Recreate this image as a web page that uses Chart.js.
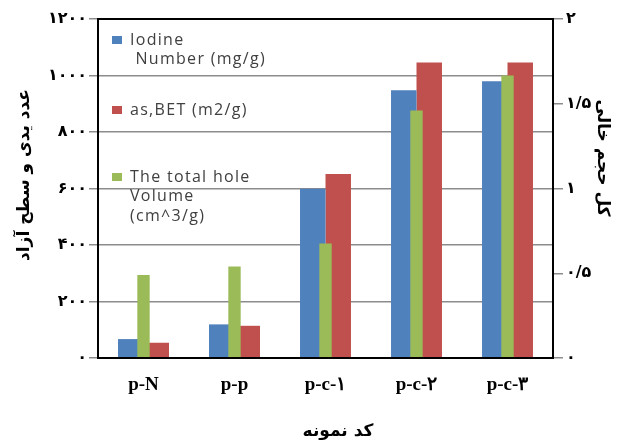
<!DOCTYPE html>
<html>
<head>
<meta charset="utf-8">
<script src="https://cdn.jsdelivr.net/npm/chart.js@4.4.1/dist/chart.umd.min.js"></script>
<style>
  html, body { margin: 0; padding: 0; background: #fff; }
  #wrap { width: 623px; height: 443px; position: relative; }
</style>
</head>
<body>
<div id="wrap"><canvas id="c" width="623" height="443"></canvas></div>
<script>
// ---- data ----
const categories = ['p-N', 'p-p', 'p-c-۱', 'p-c-۲', 'p-c-۳'];
const iodineNumber = [67, 119, 599, 948, 980];        // mg/g (left axis)
const betArea = [54, 114, 651, 1046, 1046];            // m2/g (left axis)
const holeVolume = [0.49, 0.54, 0.675, 1.46, 1.667];   // cm^3/g (right axis)

const leftTickLabels = ['۰', '۲۰۰', '۴۰۰', '۶۰۰', '۸۰۰', '۱۰۰۰', '۱۲۰۰'];
const rightTickLabels = ['۰', '۰/۵', '۱', '۱/۵', '۲'];

const seriesNames = [
  ['Iodine', ' Number (mg/g)'],
  ['as,BET (m2/g)'],
  ['The total hole', 'Volume', '(cm^3/g)']
];
const seriesColors = ['#4F81BD', '#C0504D', '#9BBB59'];

const leftTitle = 'عدد یدی و سطح آزاد';
const rightTitle = 'کل حجم خالی';
const bottomTitle = 'کد نمونه';

// ---- plugins ----
const frameAndText = {
  id: 'frameAndText',
  afterDatasetsDraw(chart) {
    const {ctx, chartArea: a} = chart;
    ctx.save();
    ctx.strokeStyle = '#000';
    ctx.lineWidth = 2;
    ctx.strokeRect(a.left, a.top, a.right - a.left, a.bottom - a.top);
    ctx.restore();
  },
  afterDraw(chart) {
    const {ctx, chartArea: a} = chart;
    ctx.save();
    // axis titles
    ctx.fillStyle = '#000';
    ctx.textAlign = 'center';
    ctx.textBaseline = 'middle';
    ctx.font = 'bold 17px "DejaVu Sans"';
    ctx.save();
    ctx.translate(25, 175);
    ctx.rotate(-Math.PI / 2);
    ctx.fillText(leftTitle, 0, 0);
    ctx.restore();
    ctx.save();
    ctx.translate(602, 158);
    ctx.rotate(Math.PI / 2);
    ctx.fillText(rightTitle, 0, 0);
    ctx.restore();
    ctx.fillText(bottomTitle, 338, 432);

    // legend inside the plot area
    const lx = a.left + 14, tx = a.left + 32;
    const rows = [a.top + 21, a.top + 91, a.top + 158];
    ctx.font = '16px "Open Sans"';
    if ('letterSpacing' in ctx) ctx.letterSpacing = '1.3px';
    ctx.textAlign = 'left';
    seriesNames.forEach((lines, i) => {
      const y0 = rows[i];
      ctx.fillStyle = seriesColors[i];
      ctx.fillRect(lx, y0 - 4, 10, 8);
      ctx.fillStyle = '#404040';
      lines.forEach((t, j) => ctx.fillText(t, tx, y0 + j * 19.5));
    });
    ctx.restore();
  }
};

new Chart(document.getElementById('c'), {
  type: 'bar',
  data: {
    labels: categories,
    datasets: [
      {
        label: seriesNames[0].join(' '),
        data: iodineNumber,
        backgroundColor: seriesColors[0],
        yAxisID: 'y',
        categoryPercentage: 0.56,
        barPercentage: 1.0,
        order: 1
      },
      {
        label: seriesNames[1].join(' '),
        data: betArea,
        backgroundColor: seriesColors[1],
        yAxisID: 'y',
        categoryPercentage: 0.56,
        barPercentage: 1.0,
        order: 1
      },
      {
        label: seriesNames[2].join(' '),
        data: holeVolume,
        backgroundColor: seriesColors[2],
        yAxisID: 'y1',
        grouped: false,
        barPercentage: 0.17,
        order: 0
      }
    ]
  },
  options: {
    responsive: false,
    animation: false,
    events: [],
    layout: { padding: { top: 19, left: 0, right: 0, bottom: 0 } },
    plugins: {
      legend: { display: false },
      tooltip: { enabled: false }
    },
    scales: {
      x: {
        grid: { display: false, drawTicks: false },
        border: { display: true, color: '#000', width: 2 },
        ticks: {
          color: '#000',
          font: { family: '"Liberation Serif"', size: 19, weight: 'bold' },
          padding: 16,
          maxRotation: 0
        },
        afterFit(s) { s.height = 85; }
      },
      y: {
        position: 'left',
        min: 0, max: 1200,
        ticks: {
          stepSize: 200,
          color: '#000',
          font: { family: '"DejaVu Sans"', size: 16, weight: 'bold' },
          padding: 2,
          callback: (v, i) => leftTickLabels[i]
        },
        grid: { color: '#8c8c8c', lineWidth: 1.5, tickLength: 9, tickColor: '#8c8c8c' },
        border: { display: true, color: '#000', width: 2 },
        afterFit(s) { s.width = 98; }
      },
      y1: {
        position: 'right',
        min: 0, max: 2,
        ticks: {
          stepSize: 0.5,
          color: '#000',
          font: { family: '"DejaVu Sans"', size: 16, weight: 'bold' },
          padding: 3,
          callback: (v, i) => rightTickLabels[i]
        },
        grid: { drawOnChartArea: false, tickLength: 10, tickColor: '#8c8c8c', lineWidth: 1.5 },
        border: { display: true, color: '#000', width: 2 },
        afterFit(s) { s.width = 70; }
      }
    }
  },
  plugins: [frameAndText]
});
</script>
</body>
</html>
